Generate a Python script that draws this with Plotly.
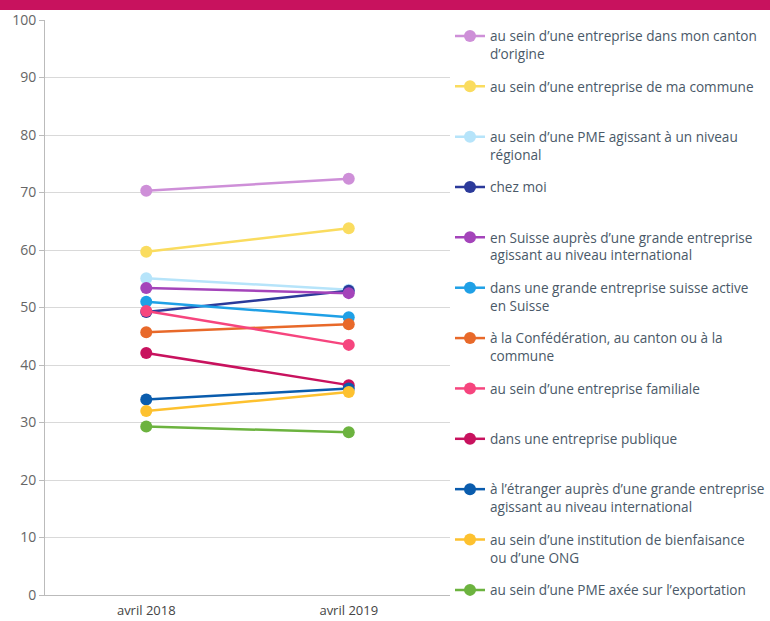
import plotly.graph_objects as go

periods = ["avril 2018", "avril 2019"]

labels = [
    "au sein d’une entreprise dans mon canton<br>d’origine",
    "au sein d’une entreprise de ma commune",
    "au sein d’une PME agissant à un niveau<br>régional",
    "chez moi",
    "en Suisse auprès d’une grande entreprise<br>agissant au niveau international",
    "dans une grande entreprise suisse active<br>en Suisse",
    "à la Confédération, au canton ou à la<br>commune",
    "au sein d’une entreprise familiale",
    "dans une entreprise publique",
    "à l’étranger auprès d’une grande entreprise<br>agissant au niveau international",
    "au sein d’une institution de bienfaisance<br>ou d’une ONG",
    "au sein d’une PME axée sur l’exportation",
]

canton = [70.3, 72.4]
commune = [59.7, 63.8]
pme_regional = [55.1, 53.1]
chez_moi = [49.2, 52.9]
suisse_intl = [53.4, 52.5]
grande_suisse = [51.0, 48.3]
confederation = [45.7, 47.1]
familiale = [49.4, 43.5]
publique = [42.1, 36.5]
etranger = [34.0, 35.9]
ong = [32.0, 35.3]
exportation = [29.3, 28.3]

series = [canton, commune, pme_regional, chez_moi, suisse_intl, grande_suisse,
          confederation, familiale, publique, etranger, ong, exportation]

colors = ["#CE8FD8", "#FADC5F", "#B6E4FA", "#2B3A9A", "#A444BA", "#1FA0E6",
          "#E8692A", "#F6457E", "#C8125E", "#0A5CAD", "#FDC12F", "#6CB33F"]

fig = go.Figure()
n = len(labels)
for i, (lab, vals, col) in enumerate(zip(labels, series, colors)):
    name = lab if ("<br>" in lab or i == n - 1) else lab + "<br> "
    fig.add_trace(go.Scatter(
        x=periods, y=vals, name=name, mode="lines+markers",
        line=dict(color=col, width=2.5),
        marker=dict(color=col, size=12),
        legendgroup=f"g{i}",
    ))

fig.add_shape(type="rect", xref="paper", yref="paper",
              x0=-0.2, x1=2.0, y0=1.0174, y1=1.05,
              fillcolor="#C8125E", line=dict(width=0), layer="above")

fig.update_layout(
    width=770, height=621,
    margin=dict(l=45, r=320, t=20, b=26, autoexpand=False),
    paper_bgcolor="white", plot_bgcolor="white",
    font=dict(family="Open Sans, sans-serif", size=13, color="#555"),
    showlegend=True,
    legend=dict(
        x=1.0, xanchor="left", y=0.999, yanchor="top",
        xref="paper", yref="paper",
        font=dict(size=13.6, color="#4A5968"),
        traceorder="grouped", tracegroupgap=12, valign="top",
        itemclick=False, bgcolor="rgba(0,0,0,0)", maxheight=800,
    ),
    xaxis=dict(
        type="category", range=[-0.5, 1.5], showgrid=False,
        showline=True, linecolor="#BBBBBB", linewidth=1,
        ticks="", tickfont=dict(size=13, color="#444"), ticklabelstandoff=3,
    ),
    yaxis=dict(
        range=[0, 100], dtick=10, showgrid=True, gridcolor="#D9D9D9", gridwidth=1,
        showline=True, linecolor="#BBBBBB", linewidth=1,
        ticks="outside", ticklen=5, tickcolor="#BBBBBB",
        tickfont=dict(size=14, color="#666"), zeroline=False,
    ),
)

fig.write_html("out.html", config={"displayModeBar": False},
               post_script="document.body.style.margin='0';")
